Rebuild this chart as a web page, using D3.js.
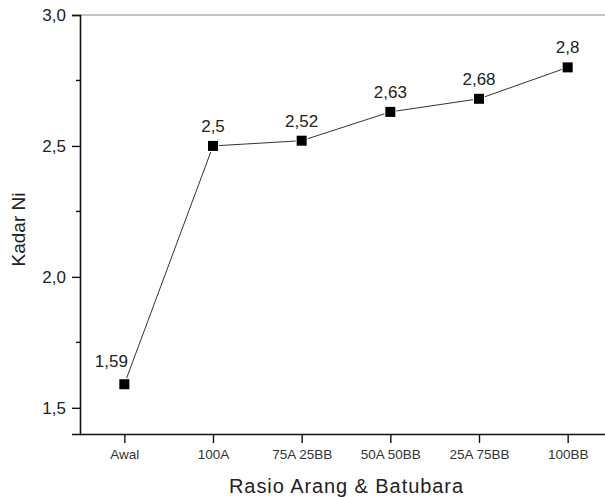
<!DOCTYPE html>
<html>
<head>
<meta charset="utf-8">
<script src="https://cdn.jsdelivr.net/npm/d3@7"></script>
<style>
  body { margin: 0; background: #fff; }
  svg { display: block; font-family: "Liberation Sans", Arial, sans-serif; }
</style>
</head>
<body>
<div id="chart"></div>
<script>
// Data
const categories = ["Awal", "100A", "75A 25BB", "50A 50BB", "25A 75BB", "100BB"];
const kadarNi = [1.59, 2.5, 2.52, 2.63, 2.68, 2.8];
const pointLabels = ["1,59", "2,5", "2,52", "2,63", "2,68", "2,8"];
const yTicks = [1.5, 2.0, 2.5, 3.0];
const yMinorTicks = [1.75, 2.25, 2.75];

const width = 605, height = 497;
const margin = { top: 15, right: -7, bottom: 63, left: 80 };
const fontFamily = "'Liberation Sans', Arial, sans-serif";

const svg = d3.select("#chart")
    .append("svg")
    .attr("width", width)
    .attr("height", height);

const x = d3.scalePoint()
    .domain(categories)
    .range([margin.left, width - margin.right])
    .padding(0.5);

const y = d3.scaleLinear()
    .domain([1.4, 3.0])
    .range([height - margin.bottom, margin.top]);

// top frame line (grey)
svg.append("line")
    .attr("x1", margin.left).attr("x2", width)
    .attr("y1", y(3.0)).attr("y2", y(3.0))
    .attr("stroke", "#8a8a8a")
    .attr("stroke-width", 1.2);

// Y axis
const yAxis = svg.append("g")
    .attr("transform", `translate(${margin.left},0)`)
    .call(d3.axisLeft(y).tickValues(yTicks).tickSize(8).tickPadding(6)
        .tickFormat(d => d3.format(".1f")(d).replace(".", ",")));
yAxis.attr("font-family", fontFamily);
yAxis.select(".domain").attr("stroke", "#111").attr("stroke-width", 1.6);
yAxis.selectAll(".tick line").attr("stroke", "#111").attr("stroke-width", 1.4);
yAxis.selectAll(".tick text").style("font-size", "17px").attr("fill", "#222");

svg.append("g")
    .selectAll("line")
    .data(yMinorTicks)
    .enter()
    .append("line")
    .attr("x1", margin.left - 4).attr("x2", margin.left)
    .attr("y1", d => y(d)).attr("y2", d => y(d))
    .attr("stroke", "#111").attr("stroke-width", 1.4);

// X axis
const xAxis = svg.append("g")
    .attr("transform", `translate(0,${height - margin.bottom})`)
    .call(d3.axisBottom(x).tickSize(9).tickPadding(6).tickSizeOuter(0));
xAxis.attr("font-family", fontFamily);
xAxis.select(".domain").attr("stroke", "#111").attr("stroke-width", 1.6)
    .attr("d", `M${margin.left},0.5H${width}`);
xAxis.selectAll(".tick line").attr("stroke", "#111").attr("stroke-width", 1.4);
xAxis.selectAll(".tick text").style("font-size", "13.5px").attr("fill", "#333");

// Axis titles
svg.append("text")
    .attr("x", (margin.left + width - margin.right) / 2)
    .attr("y", 493)
    .attr("text-anchor", "middle")
    .style("font-size", "20px")
    .attr("textLength", 234)
    .attr("fill", "#222")
    .text("Rasio Arang & Batubara");

svg.append("text")
    .attr("transform", `translate(25,${(margin.top + height - margin.bottom) / 2 + 5}) rotate(-90)`)
    .attr("text-anchor", "middle")
    .style("font-size", "19px")
    .attr("fill", "#222")
    .text("Kadar Ni");

// Line
const points = categories.map((c, i) => ({ cat: c, value: kadarNi[i], label: pointLabels[i] }));

svg.append("path")
    .datum(points)
    .attr("fill", "none")
    .attr("stroke", "#333")
    .attr("stroke-width", 1)
    .attr("d", d3.line().x(d => x(d.cat)).y(d => y(d.value)));

// Square markers
const markerSize = 10;
svg.selectAll(".marker")
    .data(points)
    .enter()
    .append("rect")
    .attr("class", "marker")
    .attr("x", d => x(d.cat) - markerSize / 2)
    .attr("y", d => y(d.value) - markerSize / 2)
    .attr("width", markerSize)
    .attr("height", markerSize)
    .attr("fill", "#000")
    .attr("stroke", "#fff")
    .attr("stroke-width", 2)
    .attr("paint-order", "stroke");

// Value labels
svg.selectAll(".vlabel")
    .data(points)
    .enter()
    .append("text")
    .attr("class", "vlabel")
    .attr("x", (d, i) => x(d.cat) + (i === 0 ? -13 : 0))
    .attr("y", (d, i) => y(d.value) - (i === 0 ? 17 : 14))
    .attr("text-anchor", "middle")
    .style("font-size", "17px")
    .attr("fill", "#222")
    .text(d => d.label);
</script>
</body>
</html>
